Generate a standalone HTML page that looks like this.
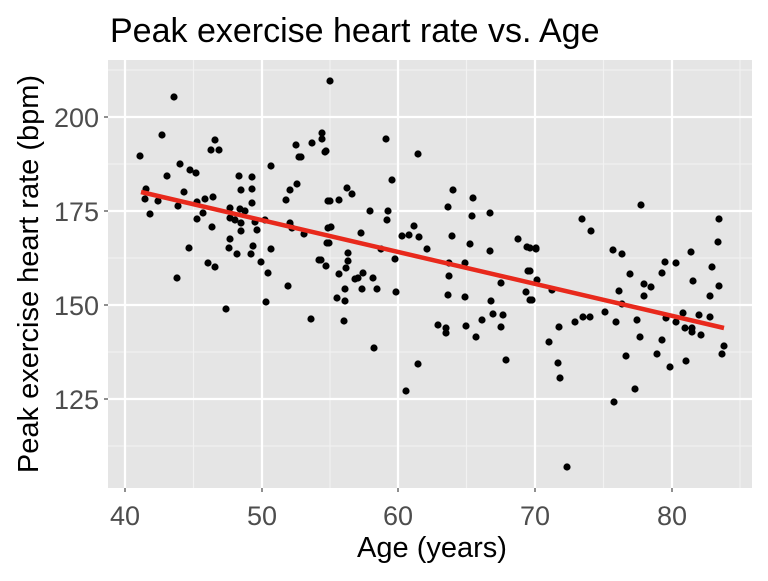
<!DOCTYPE html>
<html><head><meta charset="utf-8"><style>body{margin:0;background:#fff}</style></head><body>
<svg width="768" height="576" xmlns="http://www.w3.org/2000/svg" font-family="Liberation Sans, sans-serif">
<rect width="768" height="576" fill="#fff"/>
<rect x="108" y="60" width="644" height="428" fill="#e5e5e5"/>
<g stroke="#f2f2f2" stroke-width="1.1">
<line x1="193.5" x2="193.5" y1="60" y2="488"/><line x1="330" x2="330" y1="60" y2="488"/><line x1="466.5" x2="466.5" y1="60" y2="488"/><line x1="603.5" x2="603.5" y1="60" y2="488"/><line x1="740" x2="740" y1="60" y2="488"/>
<line x1="108" x2="752" y1="70" y2="70"/><line x1="108" x2="752" y1="164" y2="164"/><line x1="108" x2="752" y1="258" y2="258"/><line x1="108" x2="752" y1="352" y2="352"/><line x1="108" x2="752" y1="446" y2="446"/>
</g>
<g stroke="#fff" stroke-width="2.2">
<line x1="125" x2="125" y1="60" y2="488"/><line x1="262" x2="262" y1="60" y2="488"/><line x1="398" x2="398" y1="60" y2="488"/><line x1="535" x2="535" y1="60" y2="488"/><line x1="672" x2="672" y1="60" y2="488"/>
<line x1="108" x2="752" y1="117" y2="117"/><line x1="108" x2="752" y1="211" y2="211"/><line x1="108" x2="752" y1="305" y2="305"/><line x1="108" x2="752" y1="399" y2="399"/>
</g>
<g fill="#000">
<circle cx="140" cy="156" r="3.6"/><circle cx="174" cy="97" r="3.6"/><circle cx="162" cy="135" r="3.6"/><circle cx="215" cy="140" r="3.6"/><circle cx="211" cy="150" r="3.6"/><circle cx="219" cy="150" r="3.6"/><circle cx="180" cy="164" r="3.6"/><circle cx="190" cy="170" r="3.6"/><circle cx="196" cy="173" r="3.6"/><circle cx="167" cy="176" r="3.6"/><circle cx="239" cy="176" r="3.6"/><circle cx="252" cy="177" r="3.6"/><circle cx="271" cy="166" r="3.6"/><circle cx="296" cy="145" r="3.6"/><circle cx="312" cy="143" r="3.6"/><circle cx="322" cy="133" r="3.6"/><circle cx="322" cy="139" r="3.6"/><circle cx="299" cy="157" r="3.6"/><circle cx="301" cy="157" r="3.6"/><circle cx="325" cy="152" r="3.6"/><circle cx="146" cy="189" r="3.6"/><circle cx="145" cy="199" r="3.6"/><circle cx="158" cy="201" r="3.6"/><circle cx="150" cy="214" r="3.6"/><circle cx="184" cy="192" r="3.6"/><circle cx="178" cy="206" r="3.6"/><circle cx="197" cy="202" r="3.6"/><circle cx="205" cy="199" r="3.6"/><circle cx="213" cy="197" r="3.6"/><circle cx="241" cy="190" r="3.6"/><circle cx="252" cy="189" r="3.6"/><circle cx="252" cy="203" r="3.6"/><circle cx="230" cy="208" r="3.6"/><circle cx="240" cy="209" r="3.6"/><circle cx="245" cy="211" r="3.6"/><circle cx="230" cy="218" r="3.6"/><circle cx="235" cy="220" r="3.6"/><circle cx="241" cy="223" r="3.6"/><circle cx="241" cy="231" r="3.6"/><circle cx="203" cy="213" r="3.6"/><circle cx="197" cy="219" r="3.6"/><circle cx="212" cy="227" r="3.6"/><circle cx="255" cy="222" r="3.6"/><circle cx="257" cy="230" r="3.6"/><circle cx="265" cy="220" r="3.6"/><circle cx="290" cy="190" r="3.6"/><circle cx="297" cy="184" r="3.6"/><circle cx="286" cy="200" r="3.6"/><circle cx="290" cy="223" r="3.6"/><circle cx="292" cy="228" r="3.6"/><circle cx="304" cy="234" r="3.6"/><circle cx="328" cy="201" r="3.6"/><circle cx="328" cy="228" r="3.6"/><circle cx="327" cy="243" r="3.6"/><circle cx="230" cy="239" r="3.6"/><circle cx="229" cy="248" r="3.6"/><circle cx="237" cy="254" r="3.6"/><circle cx="253" cy="246" r="3.6"/><circle cx="251" cy="254" r="3.6"/><circle cx="271" cy="249" r="3.6"/><circle cx="189" cy="248" r="3.6"/><circle cx="261" cy="262" r="3.6"/><circle cx="268" cy="273" r="3.6"/><circle cx="208" cy="263" r="3.6"/><circle cx="215" cy="267" r="3.6"/><circle cx="319" cy="260" r="3.6"/><circle cx="326" cy="266" r="3.6"/><circle cx="177" cy="278" r="3.6"/><circle cx="288" cy="286" r="3.6"/><circle cx="226" cy="309" r="3.6"/><circle cx="266" cy="302" r="3.6"/><circle cx="311" cy="319" r="3.6"/>
<circle cx="330" cy="81" r="3.6"/><circle cx="326" cy="151" r="3.6"/><circle cx="386" cy="139" r="3.6"/><circle cx="418" cy="154" r="3.6"/><circle cx="392" cy="180" r="3.6"/><circle cx="347" cy="188" r="3.6"/><circle cx="352" cy="194" r="3.6"/><circle cx="330" cy="201" r="3.6"/><circle cx="339" cy="200" r="3.6"/><circle cx="370" cy="211" r="3.6"/><circle cx="388" cy="211" r="3.6"/><circle cx="387" cy="220" r="3.6"/><circle cx="331" cy="227" r="3.6"/><circle cx="329" cy="243" r="3.6"/><circle cx="361" cy="233" r="3.6"/><circle cx="402" cy="236" r="3.6"/><circle cx="409" cy="235" r="3.6"/><circle cx="414" cy="226" r="3.6"/><circle cx="419" cy="237" r="3.6"/><circle cx="427" cy="249" r="3.6"/><circle cx="381" cy="249" r="3.6"/><circle cx="395" cy="259" r="3.6"/><circle cx="448" cy="207" r="3.6"/><circle cx="453" cy="190" r="3.6"/><circle cx="473" cy="198" r="3.6"/><circle cx="472" cy="216" r="3.6"/><circle cx="490" cy="213" r="3.6"/><circle cx="452" cy="236" r="3.6"/><circle cx="470" cy="244" r="3.6"/><circle cx="490" cy="251" r="3.6"/><circle cx="518" cy="239" r="3.6"/><circle cx="527" cy="247" r="3.6"/><circle cx="536" cy="249" r="3.6"/><circle cx="321" cy="260" r="3.6"/><circle cx="348" cy="253" r="3.6"/><circle cx="348" cy="261" r="3.6"/><circle cx="346" cy="268" r="3.6"/><circle cx="339" cy="274" r="3.6"/><circle cx="355" cy="279" r="3.6"/><circle cx="358" cy="278" r="3.6"/><circle cx="363" cy="273" r="3.6"/><circle cx="373" cy="278" r="3.6"/><circle cx="362" cy="289" r="3.6"/><circle cx="377" cy="289" r="3.6"/><circle cx="345" cy="289" r="3.6"/><circle cx="337" cy="298" r="3.6"/><circle cx="345" cy="301" r="3.6"/><circle cx="396" cy="292" r="3.6"/><circle cx="344" cy="321" r="3.6"/><circle cx="374" cy="348" r="3.6"/><circle cx="449" cy="263" r="3.6"/><circle cx="449" cy="276" r="3.6"/><circle cx="465" cy="263" r="3.6"/><circle cx="448" cy="295" r="3.6"/><circle cx="465" cy="297" r="3.6"/><circle cx="501" cy="283" r="3.6"/><circle cx="491" cy="301" r="3.6"/><circle cx="493" cy="314" r="3.6"/><circle cx="503" cy="315" r="3.6"/><circle cx="501" cy="327" r="3.6"/><circle cx="506" cy="360" r="3.6"/><circle cx="438" cy="325" r="3.6"/><circle cx="446" cy="328" r="3.6"/><circle cx="446" cy="333" r="3.6"/><circle cx="466" cy="326" r="3.6"/><circle cx="482" cy="320" r="3.6"/><circle cx="476" cy="337" r="3.6"/><circle cx="528" cy="271" r="3.6"/><circle cx="526" cy="292" r="3.6"/><circle cx="530" cy="300" r="3.6"/><circle cx="537" cy="280" r="3.6"/><circle cx="418" cy="364" r="3.6"/><circle cx="406" cy="391" r="3.6"/>
<circle cx="530" cy="248" r="3.6"/><circle cx="536" cy="248" r="3.6"/><circle cx="582" cy="219" r="3.6"/><circle cx="591" cy="231" r="3.6"/><circle cx="641" cy="205" r="3.6"/><circle cx="613" cy="250" r="3.6"/><circle cx="622" cy="254" r="3.6"/><circle cx="630" cy="274" r="3.6"/><circle cx="530" cy="271" r="3.6"/><circle cx="552" cy="290" r="3.6"/><circle cx="532" cy="300" r="3.6"/><circle cx="619" cy="291" r="3.6"/><circle cx="622" cy="304" r="3.6"/><circle cx="644" cy="284" r="3.6"/><circle cx="651" cy="287" r="3.6"/><circle cx="644" cy="296" r="3.6"/><circle cx="665" cy="262" r="3.6"/><circle cx="676" cy="263" r="3.6"/><circle cx="662" cy="273" r="3.6"/><circle cx="691" cy="252" r="3.6"/><circle cx="693" cy="281" r="3.6"/><circle cx="719" cy="219" r="3.6"/><circle cx="718" cy="242" r="3.6"/><circle cx="712" cy="267" r="3.6"/><circle cx="719" cy="286" r="3.6"/><circle cx="710" cy="296" r="3.6"/><circle cx="605" cy="312" r="3.6"/><circle cx="583" cy="317" r="3.6"/><circle cx="590" cy="317" r="3.6"/><circle cx="575" cy="322" r="3.6"/><circle cx="559" cy="327" r="3.6"/><circle cx="616" cy="322" r="3.6"/><circle cx="637" cy="320" r="3.6"/><circle cx="640" cy="337" r="3.6"/><circle cx="666" cy="318" r="3.6"/><circle cx="676" cy="322" r="3.6"/><circle cx="683" cy="313" r="3.6"/><circle cx="699" cy="315" r="3.6"/><circle cx="710" cy="317" r="3.6"/><circle cx="685" cy="328" r="3.6"/><circle cx="692" cy="328" r="3.6"/><circle cx="692" cy="332" r="3.6"/><circle cx="701" cy="335" r="3.6"/><circle cx="662" cy="340" r="3.6"/><circle cx="657" cy="354" r="3.6"/><circle cx="670" cy="367" r="3.6"/><circle cx="686" cy="361" r="3.6"/><circle cx="626" cy="356" r="3.6"/><circle cx="722" cy="354" r="3.6"/><circle cx="724" cy="346" r="3.6"/><circle cx="549" cy="342" r="3.6"/><circle cx="558" cy="363" r="3.6"/><circle cx="560" cy="378" r="3.6"/><circle cx="635" cy="389" r="3.6"/><circle cx="614" cy="402" r="3.6"/><circle cx="567" cy="467" r="3.6"/>
</g>
<line x1="141" y1="192" x2="724" y2="328" stroke="#e8291c" stroke-width="4.5"/>
<g stroke="#333" stroke-width="1.1">
<line x1="104" x2="108" y1="117" y2="117"/><line x1="104" x2="108" y1="211" y2="211"/><line x1="104" x2="108" y1="305" y2="305"/><line x1="104" x2="108" y1="399" y2="399"/>
<line x1="125" x2="125" y1="488" y2="492"/><line x1="262" x2="262" y1="488" y2="492"/><line x1="398" x2="398" y1="488" y2="492"/><line x1="535" x2="535" y1="488" y2="492"/><line x1="672" x2="672" y1="488" y2="492"/>
</g>
<g fill="#4d4d4d" font-size="27" text-anchor="end">
<text x="99" y="127">200</text><text x="99" y="221">175</text><text x="99" y="315">150</text><text x="99" y="409">125</text>
</g>
<g fill="#4d4d4d" font-size="27" text-anchor="middle">
<text x="125" y="525">40</text><text x="262" y="525">50</text><text x="398" y="525">60</text><text x="535" y="525">70</text><text x="672" y="525">80</text>
</g>
<text x="432" y="557" font-size="29" text-anchor="middle" fill="#000">Age (years)</text>
<text transform="translate(38,274) rotate(-90)" font-size="29" text-anchor="middle" fill="#000">Peak exercise heart rate (bpm)</text>
<text x="110" y="42" font-size="34" fill="#000">Peak exercise heart rate vs. Age</text>
</svg>
</body></html>
